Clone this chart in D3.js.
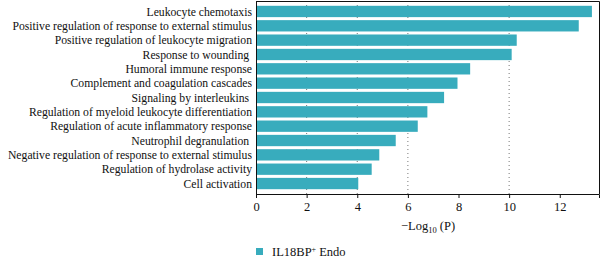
<!DOCTYPE html>
<html>
<head>
<meta charset="utf-8">
<script src="https://cdn.jsdelivr.net/npm/d3@7"></script>
<style>
  body { margin: 0; background: #fff; }
  svg text { font-family: "Liberation Serif", "DejaVu Serif", serif; fill: #111; }
</style>
</head>
<body>
<svg id="chart" width="600" height="257"></svg>
<script>
'use strict'
// GO terms, top to bottom (some source labels carry a trailing space)
var terms = [
    "Leukocyte chemotaxis",
    "Positive regulation of response to external stimulus",
    "Positive regulation of leukocyte migration",
    "Response to wounding ",
    "Humoral immune response",
    "Complement and coagulation cascades",
    "Signaling by interleukins ",
    "Regulation of myeloid leukocyte differentiation",
    "Regulation of acute inflammatory response",
    "Neutrophil degranulation ",
    "Negative regulation of response to external stimulus",
    "Regulation of hydrolase activity",
    "Cell activation"
];
// -log10(P)
var logP = [13.27, 12.75, 10.3, 10.1, 8.46, 7.96, 7.43, 6.77, 6.39, 5.52, 4.87, 4.57, 4.04];
var xTicks = [0, 2, 4, 6, 8, 10, 12];
var gridTicks = [2, 4, 6, 10];
var seriesName = "IL18BP";

var barColor = "#38acbd";
var svg = d3.select("#chart");

var plotLeft = 256, plotRight = 599, plotTop = 1, plotBottom = 194;

var x = d3.scaleLinear().domain([0, 13.55]).range([plotLeft, plotRight]);
var y = d3.scaleBand().domain(terms).range([plotTop + 0.5, plotBottom - 0.5]).paddingInner(0.21).paddingOuter(0.3);

// dotted grid
svg.append("g").selectAll("line")
    .data(gridTicks)
    .enter().append("line")
    .attr("x1", function (d) { return x(d); })
    .attr("x2", function (d) { return x(d); })
    .attr("y1", plotTop)
    .attr("y2", plotBottom)
    .attr("stroke", "#555")
    .attr("stroke-width", 0.8)
    .attr("stroke-dasharray", "1,3");

// bars
svg.append("g").selectAll("rect")
    .data(terms)
    .enter().append("rect")
    .attr("x", x(0))
    .attr("y", function (d) { return y(d); })
    .attr("width", function (d, i) { return x(logP[i]) - x(0); })
    .attr("height", y.bandwidth())
    .attr("fill", barColor);

// frame (top + right)
svg.append("path")
    .attr("d", "M" + plotLeft + "," + (plotTop + 0.5) + "H" + (plotRight + 0.5) + "V" + plotBottom)
    .attr("fill", "none")
    .attr("stroke", "#111")
    .attr("stroke-width", 1);

// x axis
var xAxis = svg.append("g")
    .attr("transform", "translate(0," + plotBottom + ")")
    .call(d3.axisBottom(x).tickValues(xTicks).tickSize(4).tickPadding(4));
xAxis.attr("font-family", null);
xAxis.select(".domain").attr("stroke", "#111");
xAxis.selectAll(".tick line").attr("stroke", "#111");
xAxis.selectAll("text").attr("font-size", 12.5);

// y axis: line + labels
svg.append("line")
    .attr("x1", plotLeft + 0.5).attr("x2", plotLeft + 0.5)
    .attr("y1", plotTop).attr("y2", plotBottom)
    .attr("stroke", "#111");

svg.append("g").selectAll("text")
    .data(terms)
    .enter().append("text")
    .attr("x", plotLeft - 4)
    .attr("y", function (d) { return y(d) + y.bandwidth() / 2; })
    .attr("dy", "0.35em")
    .attr("text-anchor", "end")
    .attr("font-size", 11.7)
    .style("white-space", "pre")
    .text(function (d) { return d; });

// axis title: −Log10 (P)
var title = svg.append("text")
    .attr("x", 428)
    .attr("y", 230)
    .attr("text-anchor", "middle")
    .attr("font-size", 12.5);
title.append("tspan").text("\u2212Log");
title.append("tspan").attr("font-size", 8.5).attr("dy", 3).text("10");
title.append("tspan").attr("dy", -3).text(" (P)");

// legend
svg.append("rect")
    .attr("x", 256).attr("y", 248)
    .attr("width", 7).attr("height", 7)
    .attr("fill", barColor);
var leg = svg.append("text")
    .attr("x", 272).attr("y", 255.5)
    .attr("font-size", 12.5);
leg.append("tspan").text(seriesName);
leg.append("tspan").attr("font-size", 8).attr("dy", -4).text("+");
leg.append("tspan").attr("dy", 4).text(" Endo");
</script>
</body>
</html>
